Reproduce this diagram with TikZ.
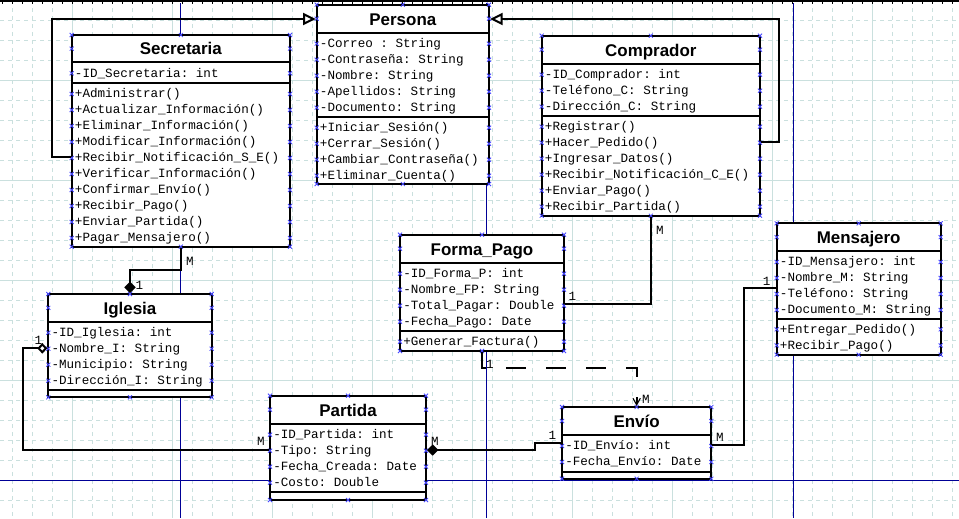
\documentclass[tikz,border=0pt]{standalone}
\usepackage{fontspec}
\setmainfont{Liberation Sans}
\setmonofont{Liberation Mono}
\usetikzlibrary{arrows.meta,fit}
\definecolor{gridc}{RGB}{202,224,222}
\definecolor{pageblue}{RGB}{0,0,150}
\definecolor{hblue}{RGB}{70,70,255}
\tikzset{
  cls/.style={draw, line width=1.5pt, fill=white, inner sep=0pt},
  sepl/.style={line width=1.5pt},
  attr/.style={font=\ttfamily\fontsize{9.45}{11}\selectfont, inner sep=0pt, anchor=base west},
  ttl/.style={font=\bfseries\fontsize{12.7}{14}\selectfont, inner sep=0pt, anchor=base},
  mult/.style={font=\ttfamily\fontsize{9.45}{11}\selectfont, inner sep=0pt},
  conn/.style={line width=1.5pt},
  gen/.style={conn, -{Triangle[open, fill=white, length=9.5pt, width=9pt]}},
  comp/.style={conn, {Diamond[length=8.5pt, width=8.5pt]}-},
  agg/.style={conn, {Diamond[open, fill=white, length=7.5pt, width=8pt]}-},
  dep/.style={conn, dash pattern=on 15pt off 15pt, -{Straight Barb[length=5pt, width=5.5pt, line width=0.8pt]}},
  hnd/.style={draw=hblue, line width=0.6pt},
  gridd/.style={draw=gridc, line width=0.75pt, dash pattern=on 3pt off 3pt},
  grids/.style={draw=gridc, line width=0.75pt},
  pagel/.style={draw=pageblue, line width=0.75pt},
}
\newcommand\hx[2]{\draw[hnd] ({#1-2},{#2-2}) -- ({#1+2},{#2+2}) ({#1-2},{#2+2}) -- ({#1+2},{#2-2});}
\newcommand\umlclass[9]{%
  \node[cls, fit={(#2,#3)(#4,#5)}] (#1) {};
  \draw[sepl] (#2,#6) -- (#4,#6) (#2,#7) -- (#4,#7);
  \node[ttl] (#1-t) at ({(#2+#4)/2},{(#3+#6)/2+6.3}) {#8};
  \hx{#2}{#3}\hx{#4}{#3}\hx{#2}{#5}\hx{#4}{#5}
  \hx{(#2+#4)/2}{#3}\hx{(#2+#4)/2}{#5}
  \hx{#2}{(#3+#6)/2}\hx{#4}{(#3+#6)/2}
  \foreach \t [count=\i] in {#9} {
    \node[attr] (#1-a\i) at ({#2+3},{#6+11+16*(\i-1)+3.8}) {\t};
    \hx{#2}{#6+11+16*(\i-1)}\hx{#4}{#6+11+16*(\i-1)}
  }
}
\newcommand\umlmeth[5]{%
  \foreach \t [count=\i] in {#5} {
    \node[attr] (#1-m\i) at ({#2+3},{#4+10.7+16*(\i-1)+3.8}) {\t};
    \hx{#2}{#4+10.7+16*(\i-1)}\hx{#3}{#4+10.7+16*(\i-1)}
  }
}
\begin{document}
\begin{tikzpicture}[x=0.75pt, y=-0.75pt]
\useasboundingbox (0,0) rectangle (959,518);
\fill[white] (0,0) rectangle (959,518);
% grid
\foreach \x in {12.7,32.7,...,952.7} \draw[gridd] (\x,0) -- (\x,518);
\foreach \y in {20.7,40.7,...,510.7} \draw[gridd] (0,\y) -- (959,\y);
\foreach \x in {72.7,172.7,...,972.7} \draw[grids] (\x,0) -- (\x,518);
\foreach \y in {80.7,180.7,280.7,380.7} \draw[grids] (0,\y) -- (959,\y);
% page lines
\foreach \x in {180,486.7,793.3} \draw[pagel] (\x,3) -- (\x,518);
\draw[pagel] (0,480.7) -- (959,480.7);
% ruler
\draw[line width=1.5pt] (0,1) -- (959,1);
\foreach \x in {2.7,12.7,...,952.7} \draw[line width=0.75pt] (\x,0) -- (\x,4);

% classes
\umlclass{sec}{71.7}{35}{290}{246.7}{62.3}{83.3}{Secretaria}{{-ID\_Secretaria: int}}
\umlmeth{sec}{71.7}{290}{83.3}{{+Administrar()},{+Actualizar\_Información()},{+Eliminar\_Información()},{+Modificar\_Información()},{+Recibir\_Notificación\_S\_E()},{+Verificar\_Información()},{+Confirmar\_Envío()},{+Recibir\_Pago()},{+Enviar\_Partida()},{+Pagar\_Mensajero()}}

\umlclass{per}{316.7}{4.7}{489}{184}{32.7}{117}{Persona}{{-Correo : String},{-Contraseña: String},{-Nombre: String},{-Apellidos: String},{-Documento: String}}
\umlmeth{per}{316.7}{489}{117}{{+Iniciar\_Sesión()},{+Cerrar\_Sesión()},{+Cambiar\_Contraseña()},{+Eliminar\_Cuenta()}}

\umlclass{com}{541.7}{35.7}{760}{215.7}{63.7}{116}{Comprador}{{-ID\_Comprador: int},{-Teléfono\_C: String},{-Dirección\_C: String}}
\umlmeth{com}{541.7}{760}{116}{{+Registrar()},{+Hacer\_Pedido()},{+Ingresar\_Datos()},{+Recibir\_Notificación\_C\_E()},{+Enviar\_Pago()},{+Recibir\_Partida()}}

\umlclass{men}{776.7}{223.3}{940.7}{354.7}{251}{318.7}{Mensajero}{{-ID\_Mensajero: int},{-Nombre\_M: String},{-Teléfono: String},{-Documento\_M: String}}
\umlmeth{men}{776.7}{940.7}{318.7}{{+Entregar\_Pedido()},{+Recibir\_Pago()}}

\umlclass{fp}{400}{234.7}{564}{351}{262.7}{331}{Forma\_Pago}{{-ID\_Forma\_P: int},{-Nombre\_FP: String},{-Total\_Pagar: Double},{-Fecha\_Pago: Date}}
\umlmeth{fp}{400}{564}{331}{{+Generar\_Factura()}}

\umlclass{igl}{48.3}{294}{211.7}{397.3}{321.7}{390}{Iglesia}{{-ID\_Iglesia: int},{-Nombre\_I: String},{-Municipio: String},{-Dirección\_I: String}}

\umlclass{par}{270}{395.7}{426}{500}{423.7}{491.7}{Partida}{{-ID\_Partida: int},{-Tipo: String},{-Fecha\_Creada: Date},{-Costo: Double}}

\umlclass{env}{562}{407}{711.3}{478.7}{435}{471.7}{Envío}{{-ID\_Envío: int},{-Fecha\_Envío: Date}}

% connectors
\draw[gen] (sec.west |- 0,156.7) -- (51.7,156.7) |- (per.west |- 0,19);
\draw[gen] (com.east |- 0,142.3) -- (779.3,142.3) |- (per.east |- 0,19);
\draw[comp] (igl.north) -- ++(0,-23.3) -| (sec.south);
\draw[agg] (igl.west |- 0,348.3) -- (22.7,348.3) |- (par.west |- 0,450);
\draw[comp] (par.east |- 0,450) -- (535.3,450) -- (535.3,442.7) -- (env.west |- 0,442.7);
\draw[conn] (com.south) |- (fp.east |- 0,304.3);
\draw[dep] (fp.south) -- ++(0,15.7) -| (env.north);
\draw[conn] (men.west |- 0,288.3) -- (743.7,288.3) |- (env.east |- 0,445);

% multiplicities
\node[mult] (l1) at (190,261) {M};
\node[mult] (l2) at (139.3,285.7) {1};
\node[mult] (l3) at (38.3,340) {1};
\node[mult] (l4) at (261,441.7) {M};
\node[mult] (l5) at (435,441) {M};
\node[mult] (l6) at (552.3,435) {1};
\node[mult] (l7) at (660,230) {M};
\node[mult] (l8) at (572.3,296.7) {1};
\node[mult] (l9) at (490,364) {1};
\node[mult] (l10) at (646,399.3) {M};
\node[mult] (l11) at (766.7,281) {1};
\node[mult] (l12) at (720,437.3) {M};
\end{tikzpicture}
\end{document}
